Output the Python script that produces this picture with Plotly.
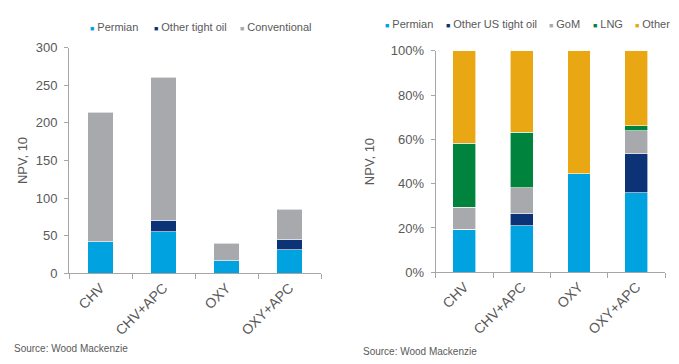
import plotly.graph_objects as go

categories = ["CHV", "CHV+APC", "OXY", "OXY+APC"]

# Left chart: NPV, 10 (absolute)
left_names = ["Permian", "Other tight oil", "Conventional"]
left_permian = [42, 55, 17, 31]
left_other_tight = [0, 15.5, 0, 14.5]
left_conventional = [172, 190, 23, 40]

# Right chart: NPV, 10 share (%)
right_names = ["Permian", "Other US tight oil", "GoM", "LNG", "Other"]
right_permian = [19.4, 21, 44.5, 36]
right_other_tight = [0, 5.6, 0, 17.5]
right_gom = [9.9, 11.6, 0, 10.4]
right_lng = [29, 25, 0, 2.2]
right_other = [41.7, 36.8, 55.5, 33.9]

left_ticks = [0, 50, 100, 150, 200, 250, 300]
right_ticks = [0, 20, 40, 60, 80, 100]
right_ticklabels = [f"{t}%" for t in right_ticks]

BLUE = "#00A3E0"
NAVY = "#0B3376"
GRAY = "#A7A9AC"
GREEN = "#00843D"
ORANGE = "#E8A713"
TXT = "#595959"
AXC = "#A6A6A6"
FONT = "Arial, Liberation Sans, sans-serif"

left_series = [left_permian, left_other_tight, left_conventional]
left_colors = [BLUE, NAVY, GRAY]
right_series = [right_permian, right_other_tight, right_gom, right_lng, right_other]
right_colors = [BLUE, NAVY, GRAY, GREEN, ORANGE]

fig = go.Figure()
for name, vals, col in zip(left_names, left_series, left_colors):
    fig.add_trace(go.Bar(x=categories, y=vals, name=name, marker_color=col,
                         marker_line=dict(color="white", width=0.6),
                         xaxis="x", yaxis="y", showlegend=False))
for name, vals, col in zip(right_names, right_series, right_colors):
    fig.add_trace(go.Bar(x=categories, y=vals, name=name, marker_color=col,
                         marker_line=dict(color="white", width=0.6),
                         xaxis="x2", yaxis="y2", showlegend=False))

# page body has an 8px margin; lay out in window pixel coordinates
OX, OY = 8, 8
WIN_W, WIN_H = 679, 364
W, H = WIN_W - OX, WIN_H - OY
def px(x):
    return (x - OX) / W
def py(y):
    return 1 - (y - OY) / H

line_common = dict(showline=True, linecolor=AXC, linewidth=1, showgrid=False,
                   zeroline=False, ticks="outside", tickcolor=AXC, automargin=False)
xfont = dict(family=FONT, size=14, color=TXT)
yfont = dict(family=FONT, size=13, color=TXT)
tfont = dict(family=FONT, size=13, color=TXT)

fig.update_layout(
    width=W, height=H, margin=dict(l=0, r=0, t=0, b=0, autoexpand=False),
    paper_bgcolor="white", plot_bgcolor="white",
    barmode="stack", bargap=0.6, showlegend=False,
    font=dict(family=FONT, color=TXT),
    xaxis=dict(domain=[px(69), px(321)], anchor="y", tickangle=-45,
               tickson="boundaries", ticklen=5, tickfont=xfont, **line_common),
    yaxis=dict(domain=[py(273.3), py(47.7)], anchor="x", range=[0, 300],
               tickvals=left_ticks, ticklen=4, tickfont=yfont, ticklabelstandoff=4,
               title=dict(text="NPV, 10", font=tfont, standoff=5),
               **line_common),
    xaxis2=dict(domain=[px(435.7), px(665)], anchor="y2", tickangle=-45,
                tickson="boundaries", ticklen=5, tickfont=xfont, **line_common),
    yaxis2=dict(domain=[py(272.3), py(50.7)], anchor="x2", range=[0, 100],
                tickvals=right_ticks, ticktext=right_ticklabels, ticklen=4, tickfont=yfont,
                ticklabelstandoff=4,
                title=dict(text="NPV, 10", font=tfont, standoff=13),
                **line_common),
)

def legend_text(name, col):
    return f'<span style="color:{col};font-size:7px">■</span> {name}'

annotations = []
left_leg_x = [88, 152, 238]
for name, col, x in zip(left_names, left_colors, left_leg_x):
    annotations.append(dict(x=px(x), y=py(27), xref="paper", yref="paper",
                            xanchor="left", yanchor="middle", showarrow=False,
                            text=legend_text(name, col),
                            font=dict(family=FONT, size=11, color=TXT)))
right_leg_x = [383, 444, 547, 591, 633]
for name, col, x in zip(right_names, right_colors, right_leg_x):
    annotations.append(dict(x=px(x), y=py(24), xref="paper", yref="paper",
                            xanchor="left", yanchor="middle", showarrow=False,
                            text=legend_text(name, col),
                            font=dict(family=FONT, size=11, color=TXT)))
annotations.append(dict(x=px(12), y=py(348), xref="paper", yref="paper",
                        xanchor="left", yanchor="middle", showarrow=False,
                        text="Source: Wood Mackenzie", font=dict(family=FONT, size=10, color=TXT)))
annotations.append(dict(x=px(361), y=py(351), xref="paper", yref="paper",
                        xanchor="left", yanchor="middle", showarrow=False,
                        text="Source: Wood Mackenzie", font=dict(family=FONT, size=10, color=TXT)))
fig.update_layout(annotations=annotations)

fig.write_html("out.html")
